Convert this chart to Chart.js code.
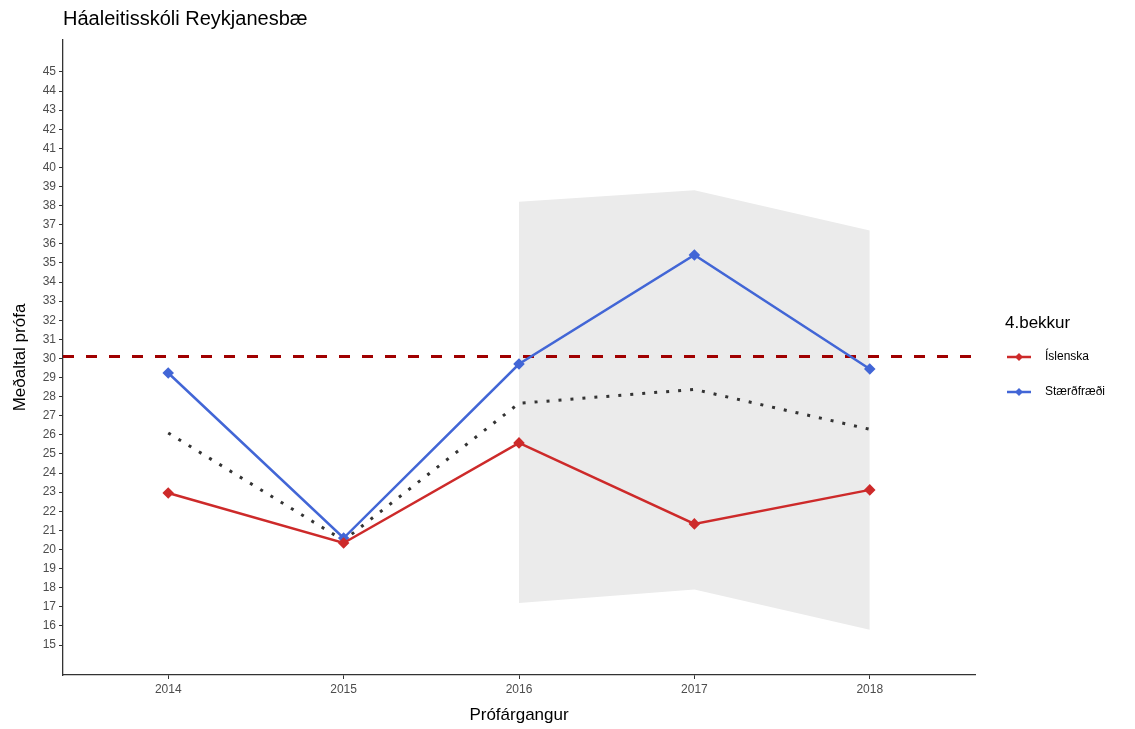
<!DOCTYPE html>
<html>
<head>
<meta charset="utf-8">
<script src="https://cdn.jsdelivr.net/npm/chart.js@4/dist/chart.umd.min.js"></script>
<style>
  body { margin: 0; background: #fff; }
  #wrap { width: 1135px; height: 729px; }
</style>
</head>
<body>
<div id="wrap"><canvas id="chart1"></canvas></div>
<script>
// data
var years       = [2014, 2015, 2016, 2017, 2018]
var islenska    = [22.96, 20.34, 25.58, 21.34, 23.12]
var staerdfraedi = [29.24, 20.6, 29.71, 35.42, 29.45]
var medaltal    = [26.1, 20.47, 27.65, 28.38, 26.29]
var ribbonYears = [2016, 2017, 2018]
var ribbonTop   = [38.2, 38.8, 36.7]
var ribbonLow   = [17.2, 17.9, 15.8]
var landsmedaltal = 30.1
var yTicks = [15,16,17,18,19,20,21,22,23,24,25,26,27,28,29,30,31,32,33,34,35,36,37,38,39,40,41,42,43,44,45]
var xRange = [2013.4, 2018.6]
var yRange = [13.43, 46.67]

const red  = "#CD2A2A"
const blue = "#4266D6"
const font = "'Liberation Sans', Arial, sans-serif"

function pts(xs, ys) {
  var out = []
  for (var i = 0; i < xs.length; i++) out.push({x: xs[i], y: ys[i]})
  return out
}

const extras = {
  id: 'extras',
  afterDraw: function(chart) {
    const ctx = chart.ctx
    ctx.save()
    // title
    ctx.fillStyle = "#000"
    ctx.font = "20px " + font
    ctx.textBaseline = "middle"
    ctx.textAlign = "left"
    ctx.fillText("Háaleitisskóli Reykjanesbæ", 63, 19)

    // legend
    ctx.font = "17px " + font
    ctx.fillText("4.bekkur", 1005, 323)
    const items = [["Íslenska", red, 357], ["Stærðfræði", blue, 392]]
    items.forEach(function(it) {
      ctx.strokeStyle = it[1]
      ctx.lineWidth = 2.5
      ctx.beginPath()
      ctx.moveTo(1007, it[2])
      ctx.lineTo(1031, it[2])
      ctx.stroke()
      ctx.fillStyle = it[1]
      ctx.beginPath()
      ctx.moveTo(1019, it[2] - 4)
      ctx.lineTo(1023, it[2])
      ctx.lineTo(1019, it[2] + 4)
      ctx.lineTo(1015, it[2])
      ctx.closePath()
      ctx.fill()
      ctx.fillStyle = "#000"
      ctx.font = "12px " + font
      ctx.fillText(it[0], 1045, it[2])
    })
    ctx.restore()
  }
}

const config = {
  type: 'line',
  data: {
    datasets: [
      {
        label: "Íslenska",
        data: pts(years, islenska),
        borderColor: red,
        backgroundColor: red,
        borderWidth: 2.5,
        pointStyle: 'rectRot',
        pointRadius: 4,
        tension: 0
      },
      {
        label: "Stærðfræði",
        data: pts(years, staerdfraedi),
        borderColor: blue,
        backgroundColor: blue,
        borderWidth: 2.5,
        pointStyle: 'rectRot',
        pointRadius: 4,
        tension: 0
      },
      {
        label: "Meðaltal",
        data: pts(years, medaltal),
        borderColor: "#333333",
        borderWidth: 3,
        borderDash: [3, 9],
        pointRadius: 0,
        tension: 0
      },
      {
        label: "Landsmeðaltal",
        data: pts(xRange, [landsmedaltal, landsmedaltal]),
        borderColor: "#A00000",
        borderWidth: 3,
        borderDash: [11, 12],
        pointRadius: 0
      },
      {
        label: "top",
        data: pts(ribbonYears, ribbonTop),
        borderWidth: 0,
        borderColor: 'rgba(0,0,0,0)',
        pointRadius: 0,
        fill: false
      },
      {
        label: "low",
        data: pts(ribbonYears, ribbonLow),
        borderWidth: 0,
        borderColor: 'rgba(0,0,0,0)',
        backgroundColor: "#EBEBEB",
        pointRadius: 0,
        fill: '-1'
      }
    ]
  },
  options: {
    responsive: true,
    maintainAspectRatio: false,
    animation: false,
    layout: { padding: { top: 40, right: 160, left: 0, bottom: 0 } },
    plugins: {
      legend: { display: false },
      tooltip: { enabled: false },
      filler: { drawTime: 'beforeDatasetsDraw' }
    },
    scales: {
      x: {
        type: 'linear',
        min: xRange[0],
        max: xRange[1],
        afterBuildTicks: function(scale) {
          scale.ticks = years.map(function(v) { return {value: v} })
        },
        afterFit: function(scale) { scale.height = 54 },
        ticks: {
          color: "#4D4D4D",
          font: { size: 12, family: font },
          padding: 3,
          callback: function(v) { return String(v) }
        },
        grid: { drawOnChartArea: false, drawTicks: true, tickLength: 4, color: "#333", lineWidth: 1 },
        border: { display: true, color: "#333", width: 1.3 },
        title: {
          display: true,
          text: "Prófárgangur",
          color: "#000",
          font: { size: 17, family: font },
          padding: { top: 0, bottom: 3 }
        }
      },
      y: {
        type: 'linear',
        min: yRange[0],
        max: yRange[1],
        afterBuildTicks: function(scale) {
          scale.ticks = yTicks.map(function(v) { return {value: v} })
        },
        afterFit: function(scale) { scale.width = 63 },
        ticks: {
          color: "#4D4D4D",
          font: { size: 12, family: font },
          padding: 3
        },
        grid: { drawOnChartArea: false, drawTicks: true, tickLength: 4, color: "#333", lineWidth: 1 },
        border: { display: true, color: "#333", width: 1.3 },
        title: {
          display: true,
          text: "Meðaltal prófa",
          color: "#000",
          font: { size: 17, family: font },
          padding: { top: 10, bottom: 0 }
        }
      }
    }
  },
  plugins: [extras]
}

const myChart = new Chart(document.getElementById('chart1').getContext("2d"), config)
</script>
</body>
</html>
